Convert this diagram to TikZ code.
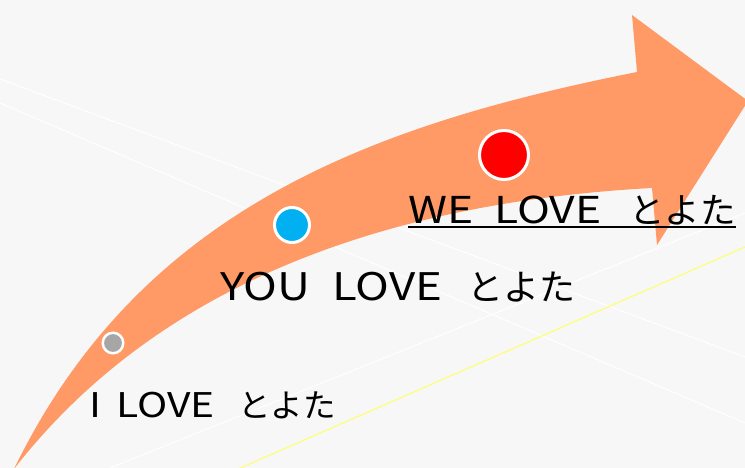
\documentclass[tikz,border=0pt]{standalone}
\usepackage{fontspec}
\newfontfamily\jpfont{Noto Sans CJK JP}
\newfontfamily\latfont[FakeStretch=1.2]{Noto Sans CJK JP}
\definecolor{bgcol}{HTML}{F7F7F7}
\definecolor{arrowcol}{HTML}{FF9A66}
\definecolor{yel}{HTML}{FFFF66}
\definecolor{dotgray}{HTML}{A6A6A6}
\definecolor{dotblue}{HTML}{00B0F0}
\definecolor{dotred}{HTML}{FF0000}
\tikzset{
  bgline/.style={draw=white, line width=1pt},
  dotnode/.style={circle, draw=white, inner sep=0pt},
  lbl/.style={inner sep=0pt, anchor=base west, text=black},
}
% #1 latin size, #2 kana size, #3 first word, #4 box of first word, #5 box of LOVE
\newcommand{\lovetext}[5]{\makebox[#4][l]{\latfont\fontsize{#1}{#1}\selectfont #3}\makebox[#5][l]{\latfont\fontsize{#1}{#1}\selectfont LOVE}{\jpfont\fontsize{#2}{#2}\selectfont とよた}}
\begin{document}
\begin{tikzpicture}[x=1pt,y=-1pt]
\useasboundingbox (0,0) rectangle (745,468);
\fill[bgcol] (0,0) rectangle (745,468);
\begin{scope}
\clip (0,0) rectangle (745,468);
% background lines
\coordinate (w1a) at (0,79);
\coordinate (w1b) at (745,357);
\coordinate (w2a) at (0,103);
\coordinate (w2b) at (745,423);
\coordinate (w3a) at (110,468);
\coordinate (w3b) at (745,213);
\coordinate (ya) at (238,469);
\coordinate (yb) at (745,247);
\draw[bgline] (w1a) -- (w1b);
\draw[bgline] (w2a) -- (w2b);
\draw[bgline] (w3a) -- (w3b);
\draw[yel, line width=1pt] (ya) -- (yb);
% arrow
\fill[arrowcol] (14,469) .. controls (140,210) and (370,125) .. (637,72)
  -- (632,15) -- (748,101) -- (657,245) -- (652,188)
  .. controls (430,200) and (175,262) .. (14,469) -- cycle;
\end{scope}
% dots
\node[dotnode, fill=dotgray, line width=2.5pt, minimum size=20.5pt] (d1) at (113,343) {};
\node[dotnode, fill=dotblue, line width=3pt, minimum size=35pt] (d2) at (292,225) {};
\node[dotnode, fill=dotred, line width=3pt, minimum size=49pt] (d3) at (504,155) {};
% labels
\node[lbl] (t1) at (89,417) {\lovetext{34}{32.5}{I}{27pt}{122pt}};
\node[lbl] (t2) at (220,300) {\lovetext{38}{36}{YOU}{112pt}{135pt}};
\node[lbl] (t3) at (408,223) {\lovetext{37}{35.5}{WE}{86pt}{135pt}};
\draw[black, line width=2pt] ([yshift=-4pt]t3.base west) -- ([yshift=-4pt]t3.base east);
\end{tikzpicture}
\end{document}
